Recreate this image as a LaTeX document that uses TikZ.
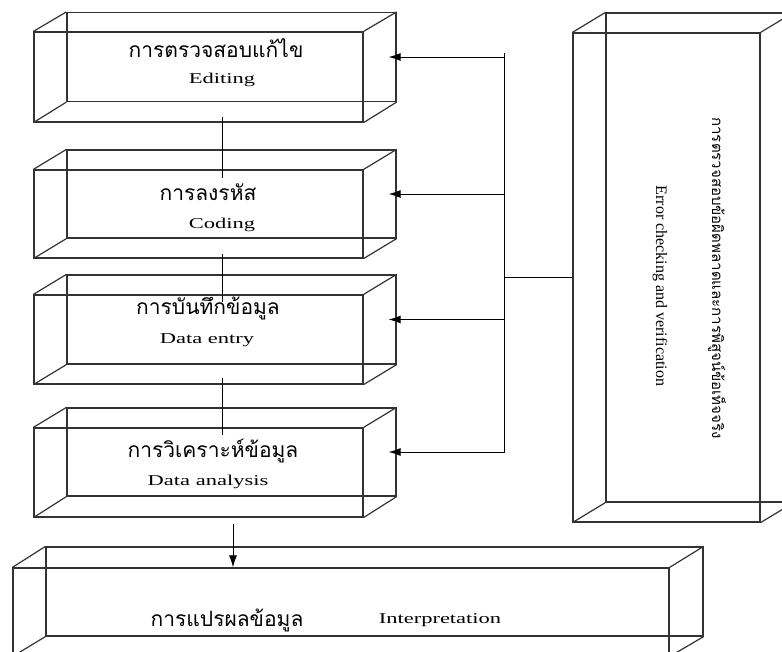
\documentclass[tikz,border=0pt]{standalone}
\usepackage{fontspec}
\setmainfont{Liberation Serif}
\newfontfamily\thaifont[Script=Thai]{Loma}
\newfontfamily\widefont[FakeStretch=1.5]{Liberation Serif}
\usetikzlibrary{arrows.meta}

\tikzset{
  face/.style={draw=black!80, line width=1.2pt, inner sep=0pt, minimum width=329pt},
  edge/.style={draw=black!80, line width=1.2pt},
  wire/.style={draw=black, line width=0.9pt},
  arr/.style={wire, -{Latex[length=12pt,width=8pt]}},
  th/.style={font=\thaifont\fontsize{21}{25}\selectfont, inner sep=0pt},
  thv/.style={font=\thaifont\fontsize{15}{18}\selectfont, inner sep=0pt},
  en/.style={font=\widefont\fontsize{15}{18}\selectfont, inner sep=0pt},
  enr/.style={font=\fontsize{16}{19}\selectfont, inner sep=0pt},
}

% diagonal edges joining the front face #1 to its back face #1B
\newcommand\prismedges[1]{%
  \foreach \c in {north west,north east,south west,south east}
    \draw[edge] (#1.\c) -- (#1B.\c);}

\begin{document}
\begin{tikzpicture}[x=1pt,y=-1pt]
\useasboundingbox (0,0) rectangle (782,652);

% ---- process boxes (front face + back face) ----
\node[face, minimum height=90pt] (edit)  at (198.5,77) {};
\node[face, minimum height=89pt] (editB) at (231.5,57) {};
\prismedges{edit}

\node[face, minimum height=88pt] (code)  at (198.5,214) {};
\node[face, minimum height=88pt] (codeB) at (231.5,194) {};
\prismedges{code}

\node[face, minimum height=89pt] (entry)  at (198.5,339.5) {};
\node[face, minimum height=89pt] (entryB) at (231.5,319.5) {};
\prismedges{entry}

\node[face, minimum height=89pt] (ana)  at (198.5,472.5) {};
\node[face, minimum height=88pt] (anaB) at (231.5,452) {};
\prismedges{ana}

% ---- interpretation box ----
\node[face, minimum width=656pt, minimum height=88pt] (interp)  at (341,612) {};
\node[face, minimum width=657pt, minimum height=89pt] (interpB) at (374.5,591.5) {};
\prismedges{interp}

% ---- error checking box ----
\node[face, minimum width=187pt, minimum height=489pt] (err)  at (666.5,277.5) {};
\node[face, minimum width=187pt, minimum height=489pt] (errB) at (699.5,257.5) {};
\prismedges{err}

% ---- labels ----
\node[th] at (216,48) {การตรวจสอบแก้ไข};
\node[en] at (222,80) {Editing};
\node[th] at (208,192) {การลงรหัส};
\node[en] at (222,225) {Coding};
\node[th] at (208,308) {การบันทึกข้อมูล};
\node[en] at (207,340) {Data entry};
\node[th] at (213,451) {การวิเคราะห์ข้อมูล};
\node[en] at (208,482) {Data analysis};
\node[th] at (227,620) {การแปรผลข้อมูล};
\node[en] at (440,620) {Interpretation};
\node[thv, rotate=-90] at (717,278) {การตรวจสอบข้อผิดพลาดและการพิสูจน์ข้อเท็จจริง};
\node[enr, rotate=-90] at (660,286) {Error checking and verification};

% ---- links between the stages ----
\draw[wire] ([xshift=23.5pt,yshift=6pt]edit.south) -- ([xshift=23.5pt,yshift=-9pt]code.north);
\draw[wire] ([xshift=23.5pt,yshift=5pt]code.south) -- ([xshift=23.5pt,yshift=-8pt]entry.north);
\draw[wire] ([xshift=23.5pt,yshift=7pt]entry.south) -- ([xshift=23.5pt,yshift=-8pt]ana.north);
\draw[arr] ([xshift=34.5pt,yshift=-6pt]ana.south) coordinate (dn) -- (dn |- interp.north);

% ---- feedback bus ----
\coordinate (busTop) at (504,53);
\coordinate (busBot) at (504,453);
\draw[wire] (busTop) -- (busBot);
\draw[wire] (busTop |- err.west) -- (err.west);
\foreach \b in {editB,codeB,entryB,anaB}
  \draw[arr] (busTop |- \b.east) -- ([xshift=-8pt]\b.east);
\end{tikzpicture}
\end{document}
